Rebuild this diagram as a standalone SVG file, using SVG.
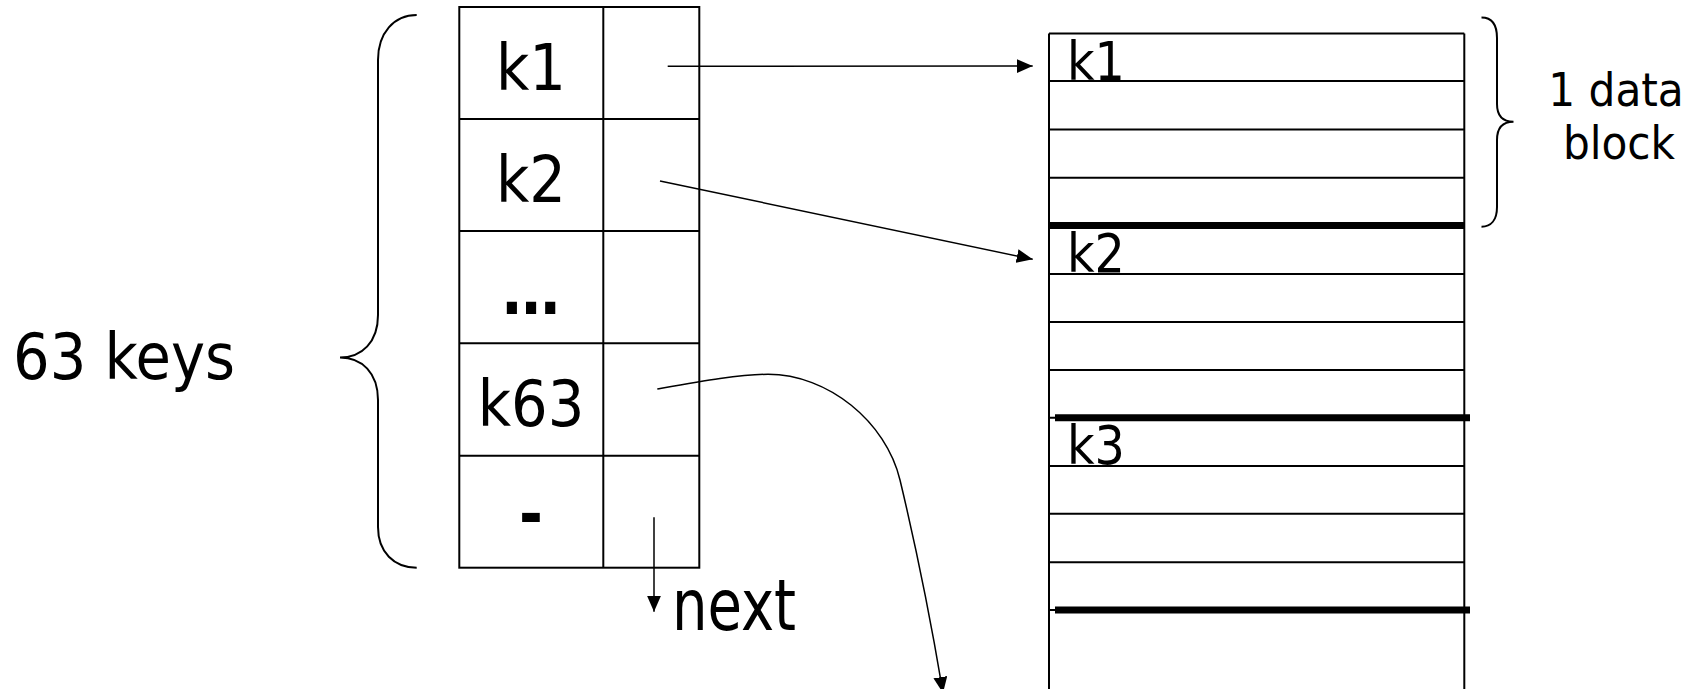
<svg xmlns="http://www.w3.org/2000/svg" width="1698" height="689" viewBox="0 0 1698 689">
<defs>
<style>
.ln{stroke:#000;stroke-width:2;fill:none}
.thick{stroke:#000;stroke-width:7;fill:none}
.br{stroke:#000;stroke-width:2;fill:none}
.cn{stroke:#000;stroke-width:1.5;fill:none}
.t{font-family:"DejaVu Sans Condensed","DejaVu Sans",sans-serif;font-stretch:condensed;fill:#000}
.big{font-size:64px}
.mid{font-size:53px}
.sm{font-size:47px}
.b{font-weight:bold}
</style>
<marker id="ah" markerUnits="userSpaceOnUse" markerWidth="16" markerHeight="14" refX="16" refY="7" orient="auto">
<path d="M0,0 L16,7 L0,14 Z" fill="#000"/>
</marker>
</defs>
<rect x="0" y="0" width="1698" height="689" fill="#fff"/>

<g id="keys-brace">
<path class="br" d="M416.7,15 C394,15 378,33 378,60 L378,315 C378,342 362,357.5 340,357.5 C362,357.5 378,373 378,400 L378,527 C378,552 394,567.7 416.7,567.7"/>
</g>
<g id="keys-label">
<text class="t big" x="13" y="379">63 keys</text>
</g>

<g id="index-block">
<rect class="ln" x="459.3" y="7" width="240" height="560.7"/>
<line class="ln" x1="603.3" y1="7" x2="603.3" y2="567.7"/>
<line class="ln" x1="459.3" y1="119" x2="699.3" y2="119"/>
<line class="ln" x1="459.3" y1="231" x2="699.3" y2="231"/>
<line class="ln" x1="459.3" y1="343.3" x2="699.3" y2="343.3"/>
<line class="ln" x1="459.3" y1="455.7" x2="699.3" y2="455.7"/>
<text class="t big" x="531" y="89.5" text-anchor="middle">k1</text>
<text class="t big" x="531" y="201.7" text-anchor="middle">k2</text>
<text class="t big b" x="531" y="313.5" text-anchor="middle">…</text>
<text class="t big" x="531" y="426" text-anchor="middle">k63</text>
<text class="t big b" x="531" y="536" text-anchor="middle">-</text>
</g>

<g id="next-label">
<text class="t" font-size="72" x="672" y="630" textLength="124" lengthAdjust="spacingAndGlyphs">next</text>
</g>

<g id="data-file">
<line class="ln" x1="1049" y1="33.5" x2="1049" y2="689"/>
<line class="ln" x1="1464.3" y1="33.5" x2="1464.3" y2="689"/>
<line class="ln" x1="1049" y1="33.5" x2="1464.3" y2="33.5"/>
<line class="ln" x1="1049" y1="81" x2="1464.3" y2="81"/>
<line class="ln" x1="1049" y1="129.5" x2="1464.3" y2="129.5"/>
<line class="ln" x1="1049" y1="177.7" x2="1464.3" y2="177.7"/>
<line class="thick" x1="1049" y1="225.5" x2="1464.3" y2="225.5"/>
<line class="ln" x1="1049" y1="274" x2="1464.3" y2="274"/>
<line class="ln" x1="1049" y1="322" x2="1464.3" y2="322"/>
<line class="ln" x1="1049" y1="370" x2="1464.3" y2="370"/>
<line class="ln" x1="1049" y1="417.7" x2="1464.3" y2="417.7"/>
<line class="thick" x1="1055" y1="417.7" x2="1470" y2="417.7"/>
<line class="ln" x1="1049" y1="466" x2="1464.3" y2="466"/>
<line class="ln" x1="1049" y1="513.7" x2="1464.3" y2="513.7"/>
<line class="ln" x1="1049" y1="562.3" x2="1464.3" y2="562.3"/>
<line class="ln" x1="1049" y1="610" x2="1464.3" y2="610"/>
<line class="thick" x1="1055" y1="610" x2="1470" y2="610"/>
<text class="t mid" x="1067" y="79.5">k1</text>
<text class="t mid" x="1067" y="271.5">k2</text>
<text class="t mid" x="1067" y="464">k3</text>
</g>

<g id="block-brace">
<path class="br" d="M1481.5,17.5 C1491,17.5 1497,24 1497,38 L1497,104 C1497,116 1503,121.7 1513.5,121.7 C1503,121.7 1497,128 1497,140 L1497,207 C1497,220 1491,226.7 1481.5,226.7"/>
</g>
<g id="block-label">
<text class="t sm" x="1616" y="106" text-anchor="middle">1 data</text>
<text class="t sm" x="1619" y="159" text-anchor="middle">block</text>
</g>

<g id="connectors">
<line class="cn" x1="667.7" y1="66.3" x2="1032.7" y2="66" marker-end="url(#ah)"/>
<line class="cn" x1="660" y1="181" x2="1032.7" y2="259.3" marker-end="url(#ah)"/>
<path class="cn" d="M657.3,389 C700,381.5 740,374.3 768,374.3 C828,374.3 886,421.7 900,480 C916.3,548 931,621 943,693" marker-end="url(#ah)"/>
<line class="cn" x1="654" y1="517.3" x2="654" y2="611.7" marker-end="url(#ah)"/>
</g>
</svg>
